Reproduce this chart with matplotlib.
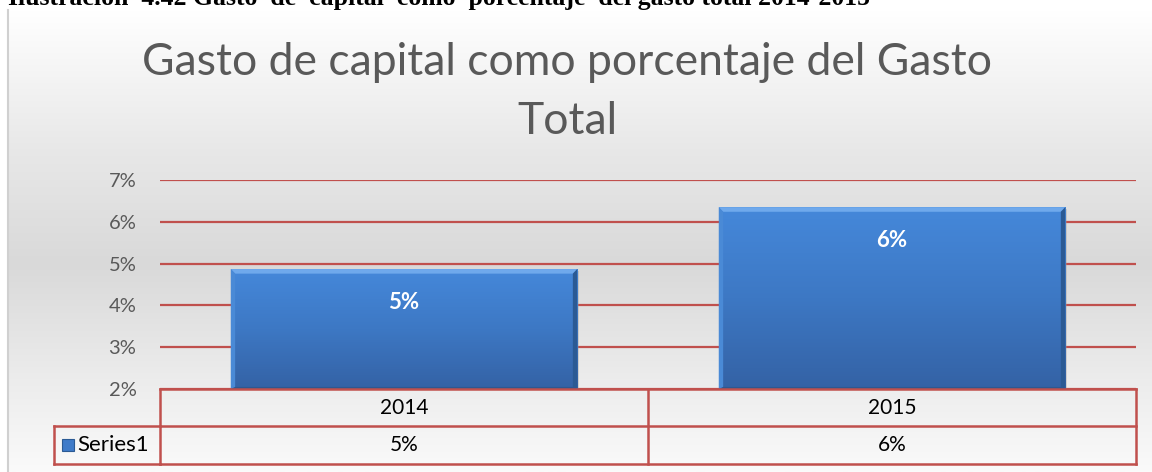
import numpy as np
import matplotlib
matplotlib.use("Agg")
import matplotlib.pyplot as plt
from matplotlib.patches import Polygon, Rectangle
from matplotlib.transforms import blended_transform_factory
from matplotlib.colors import LinearSegmentedColormap

# ---------------- data ----------------
categories = ["2014", "2015"]
values = [4.87, 6.35]                 # percent
table_labels = ["5%", "6%"]
series_name = "Series1"
yticks = [2, 3, 4, 5, 6, 7]
ytick_labels = ["2%", "3%", "4%", "5%", "6%", "7%"]
title = "Gasto de capital como porcentaje del Gasto\nTotal"
caption = "Ilustración  4.42 Gasto  de  capital  como  porcentaje  del gasto total 2014-2015"

FONT = "Lato"
RED = "#c0504d"
GRAY = "#595959"

W, H = 1152, 472
fig = plt.figure(figsize=(W / 100, H / 100), dpi=100)
fig.patch.set_facecolor("white")

# ---- background gradient of chart area ----
bg = fig.add_axes([8 / W, 0, 1 - 8 / W, 1 - 10 / H], zorder=-5)
bg.axis("off")
stops = [(0.0, "#ffffff"), (0.3, "#e8e8e8"), (0.55, "#d9d9d9"), (0.8, "#ececec"), (1.0, "#fafafa")]
cmap_bg = LinearSegmentedColormap.from_list("bg", stops)
grad = np.linspace(0, 1, 256).reshape(-1, 1)
bg.imshow(grad, aspect="auto", cmap=cmap_bg, extent=(0, 1, 0, 1), origin="upper")
bg.set_xlim(0, 1); bg.set_ylim(0, 1)
fig.add_artist(plt.Line2D([8 / W, 8 / W], [0, 1 - 10 / H], color="#d0d0d0", lw=1.5))

# ---- caption (cut at top, as in the source) ----
fig.text(8 / W, 1 - 5 / H, caption, family="Liberation Serif", fontweight="bold",
         fontsize=18.5, color="black", va="baseline", ha="left")

# ---- title ----
fig.text(567 / W, 1 - 92 / H, title, family=FONT, fontsize=32, color=GRAY,
         ha="center", va="center", linespacing=1.56)

# ---- main axes ----
ax = fig.add_axes([160 / W, 1 - 389 / H, 976 / W, 209 / H])
ax.set_facecolor("none")
x = np.arange(len(categories))
ax.set_xlim(-0.5, len(categories) - 0.5)
ax.set_ylim(min(yticks), max(yticks))
for s in ax.spines.values():
    s.set_visible(False)
ax.set_xticks([])
ax.set_yticks(yticks)
ax.set_yticklabels(ytick_labels, family=FONT, fontsize=14.5, color=GRAY)
ax.tick_params(axis="y", length=0, pad=17)
ax.yaxis.grid(True, color=RED, lw=1.6)
ax.set_axisbelow(True)

bar_w = 0.71
ymin = min(yticks)
cmap_bar = LinearSegmentedColormap.from_list("bar", ["#4588da", "#3d78c4", "#3462a5"])
bars = ax.bar(x, np.array(values) - ymin, bottom=ymin, width=bar_w, color="#3f7bc9",
              zorder=3, edgecolor="none")
bx = 0.009  # bevel width (data x)
by = 0.11   # bevel height (data y)
for b, v in zip(bars, values):
    x0, x1 = b.get_x(), b.get_x() + b.get_width()
    ax.add_patch(Rectangle((x0 + 0.004, ymin), x1 - x0, v - ymin - 0.05, color="#9a9a9a",
                           alpha=0.35, zorder=2.5, lw=0))
    im = ax.imshow(np.linspace(0, 1, 128).reshape(-1, 1), cmap=cmap_bar, aspect="auto",
                   extent=(x0, x1, ymin, v), origin="upper", zorder=3.1)
    im.set_clip_path(b)
    ax.add_patch(Polygon([(x0, v), (x1, v), (x1 - bx, v - by), (x0 + bx, v - by)],
                         closed=True, color="#6fa9ec", lw=0, zorder=3.3))
    ax.add_patch(Polygon([(x1, v), (x1, ymin), (x1 - bx, ymin + 0.03), (x1 - bx, v - by)],
                         closed=True, color="#2b5a94", lw=0, zorder=3.3))
    ax.add_patch(Polygon([(x0, v), (x0, ymin), (x0 + bx, ymin + 0.03), (x0 + bx, v - by)],
                         closed=True, color="#4a8ad6", lw=0, zorder=3.3))
    ax.add_patch(Polygon([(x0, ymin), (x1, ymin), (x1 - bx, ymin + 0.05), (x0 + bx, ymin + 0.05)],
                         closed=True, color="#2e5890", lw=0, zorder=3.3))

for xi, v in zip(x, values):
    ax.annotate(f"{round(v):.0f}%", (xi, v), xytext=(0, -24), textcoords="offset points",
                ha="center", va="center", color="white", fontweight="bold",
                family=FONT, fontsize=16, zorder=5)

# ---- data table ----
tr = blended_transform_factory(ax.transData, ax.transAxes)
row1_bot = -37 / 209
row2_bot = -75 / 209
lab_left = (54 - 160) / 976
lkw = dict(color=RED, lw=1.8, clip_on=False, zorder=6)
xl, xr = -0.5, len(categories) - 0.5
ax.plot([xl, xr], [0, 0], transform=tr, **lkw)
ax.plot([xl, xr], [row1_bot, row1_bot], transform=tr, **lkw)
ax.plot([xl, xr], [row2_bot, row2_bot], transform=tr, **lkw)
for bnd in np.arange(len(categories) + 1) - 0.5:
    ax.plot([bnd, bnd], [0, row2_bot], transform=tr, **lkw)
ax.plot([lab_left, 0], [row1_bot, row1_bot], transform=ax.transAxes, **lkw)
ax.plot([lab_left, 0], [row2_bot, row2_bot], transform=ax.transAxes, **lkw)
ax.plot([lab_left, lab_left], [row1_bot, row2_bot], transform=ax.transAxes, **lkw)

for xi, cat, lab in zip(x, categories, table_labels):
    ax.text(xi, row1_bot / 2, cat, transform=tr, ha="center", va="center",
            family=FONT, fontsize=15, color="black")
    ax.text(xi, (row1_bot + row2_bot) / 2, lab, transform=tr, ha="center", va="center",
            family=FONT, fontsize=15, color="black")
ymid = (row1_bot + row2_bot) / 2
ax.add_patch(Rectangle(((62 - 160) / 976, ymid - 6 / 209), 12 / 976, 12 / 209,
                       transform=ax.transAxes, facecolor="#3f7bc9", edgecolor="#2b5a94",
                       lw=0.8, clip_on=False, zorder=6))
ax.text((77 - 160) / 976, ymid, series_name, transform=ax.transAxes, ha="left", va="center",
        family=FONT, fontsize=16, color="black")

fig.savefig("out.png", dpi=100)
